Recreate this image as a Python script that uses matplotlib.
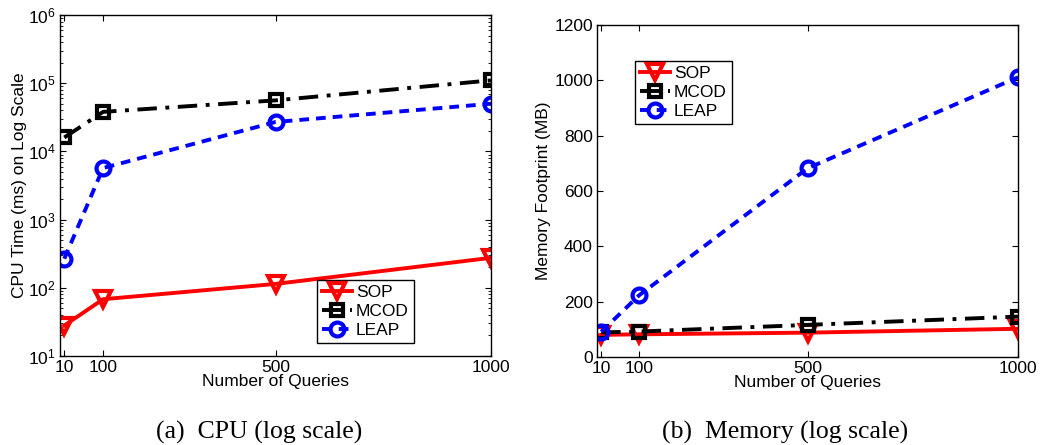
import matplotlib
matplotlib.use("Agg")
import matplotlib.pyplot as plt
from matplotlib.ticker import NullFormatter, LogLocator

plt.rcParams['font.family'] = ['Liberation Sans', 'DejaVu Sans']
plt.rcParams['mathtext.default'] = 'regular'

queries = [10, 100, 500, 1000]
cpu_sop = [28, 68, 114, 275]
cpu_mcod = [16000, 38000, 56000, 110000]
cpu_leap = [267, 5700, 27000, 50000]
mem_sop = [80, 82, 88, 102]
mem_mcod = [89, 92, 116, 146]
mem_leap = [91, 223, 682, 1011]
series_names = ["SOP", "MCOD", "LEAP"]
captions = ["(a)  CPU (log scale)", "(b)  Memory (log scale)"]

fig = plt.figure(figsize=(10.4, 4.45), dpi=100)
ax1 = fig.add_axes([60/1040, (445-356)/445, 431/1040, 341/445])
ax2 = fig.add_axes([597/1040, (445-357)/445, 421/1040, 332/445])

styles = [
    dict(color='red', linestyle='-', marker='v', markersize=11, mfc='none', mew=3, lw=2.8),
    dict(color='black', linestyle=(0, (5, 2.2, 1, 2.2)), marker='s', markersize=8, mfc='none', mew=3, lw=2.8),
    dict(color='blue', linestyle=(0, (2.5, 1.8)), marker='o', markersize=10, mfc='none', mew=3, lw=2.8),
]

for ax, data in [(ax1, [cpu_sop, cpu_mcod, cpu_leap]), (ax2, [mem_sop, mem_mcod, mem_leap])]:
    for name, vals, st in zip(series_names, data, styles):
        ax.plot(queries, vals, label=name, **st)
    ax.set_xlim(0, 1000)
    ax.set_xticks(queries)
    ax.set_xticklabels([str(q) for q in queries])
    ax.tick_params(direction='in', top=True, right=True, labelsize=12.5, length=4, pad=3)
    ax.set_xlabel("Number of Queries", fontsize=12.5, labelpad=-1)
    for s in ax.spines.values():
        s.set_linewidth(1.0)

ax1.set_yscale('log')
ax1.set_ylim(10, 1e6)
ax1.set_yticks([10**k for k in range(1, 7)])
ax1.set_yticklabels(['$10^{%d}$' % k for k in range(1, 7)])
ax1.yaxis.set_minor_locator(LogLocator(base=10, subs=range(2, 10)))
ax1.yaxis.set_minor_formatter(NullFormatter())
ax1.tick_params(which='minor', direction='in', right=True, length=2)
ax1.set_ylabel("CPU Time (ms) on Log Scale", fontsize=12.5, labelpad=1)

ax2.set_ylim(0, 1200)
ax2.set_yticks(range(0, 1201, 200))
ax2.set_ylabel("Memory Footprint (MB)", fontsize=12.5, labelpad=2)

leg_kw = dict(fontsize=12.5, handlelength=1.7, handletextpad=0.25, borderpad=0.3,
              labelspacing=0.2, fancybox=False, framealpha=1, borderaxespad=0)
l1 = ax1.legend(loc='upper left', bbox_to_anchor=((317-60)/431, (356-280)/341), **leg_kw)
l2 = ax2.legend(loc='upper left', bbox_to_anchor=((635-597)/421, (357-61)/332), **leg_kw)
for l in (l1, l2):
    l.get_frame().set_edgecolor('black')
    l.get_frame().set_linewidth(1.0)

fig.text(259/1040, 1-432/445, captions[0], ha='center', va='center',
         fontsize=18.5, family=['Liberation Serif', 'DejaVu Serif'])
fig.text(785/1040, 1-432/445, captions[1], ha='center', va='center',
         fontsize=18.5, family=['Liberation Serif', 'DejaVu Serif'])

fig.savefig("out.png", dpi=100)
